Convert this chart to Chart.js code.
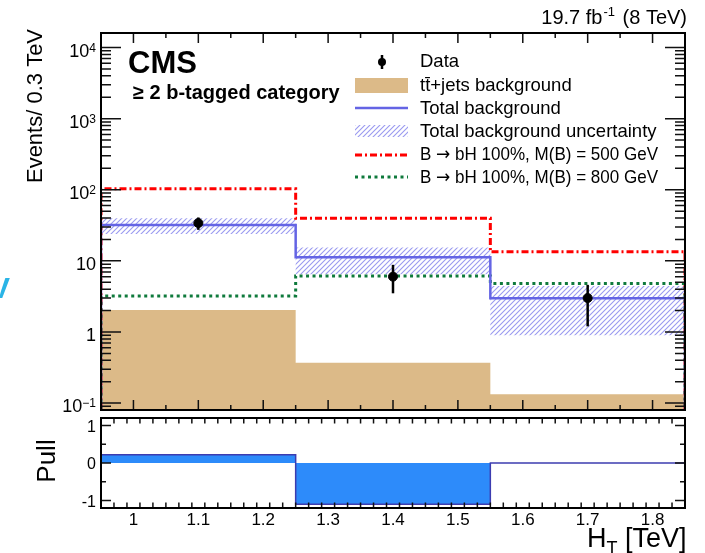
<!DOCTYPE html>
<html>
<head>
<meta charset="utf-8">
<script src="https://cdn.jsdelivr.net/npm/chart.js@4/dist/chart.umd.min.js"></script>
<style>
  html, body { margin: 0; padding: 0; background: #fff; }
  #wrap { position: relative; width: 705px; height: 553px; overflow: hidden; background: #fff; }
  canvas { position: absolute; left: 0; top: 0; }
  #edge { position: absolute; left: -10px; top: 271px; color: #2ab4e6; font: bold 30px "Liberation Sans", Arial, sans-serif; }
</style>
</head>
<body>
<div id="wrap">
  <canvas id="main" width="705" height="553"></canvas>
  <canvas id="pull" width="705" height="553"></canvas>
  <span id="edge">V</span>
</div>
<script>
// H_T binning (TeV) and per-bin yields, events / 0.3 TeV
const binEdges   = [0.95, 1.25, 1.55, 1.85];
const ttJets     = [2.04, 0.37, 0.133];
const totalBkg   = [32, 11.2, 2.98];
const bkgUncHi   = [39.6, 15.4, 4.44];
const bkgUncLo   = [23.8, 6.5, 0.9];
const signal500  = [103, 39.6, 13.4];
const signal800  = [3.2, 6.15, 4.8];
const dataCounts = [34, 6.0, 3.0];
const dataErrHi  = [40.8, 8.8, 4.6];
const dataErrLo  = [27.3, 3.5, 1.2];
const pullValues = [0.22, -1.1, 0.0];

// axis labelling
const xTickLabels    = ['1', '1.1', '1.2', '1.3', '1.4', '1.5', '1.6', '1.7', '1.8'];
const yTickExponents = [-1, 0, 1, 2, 3, 4];
const pullTickLabels = ['-1', '0', '1'];

const legendLabels = [
  'Data',
  'tt\u0304+jets background',
  'Total background',
  'Total background uncertainty',
  'B \u2192 bH 100%, M(B) = 500 GeV',
  'B \u2192 bH 100%, M(B) = 800 GeV'
];

const COL_TT = '#dcba88';
const COL_BKG = '#6464e4';
const COL_SIG500 = '#ff0000';
const COL_SIG800 = '#0f7a3c';
const COL_PULL = '#2d8bfa';
const FONT = '"Liberation Sans", Arial, Helvetica, sans-serif';
const SYM_FONT = '"DejaVu Sans", sans-serif';
const FLOOR = 1e-3;

function font(size, bold, family) { return (bold ? 'bold ' : '') + size + 'px ' + (family || FONT); }

const binCenters = binEdges.slice(0, -1).map((e, i) => (e + binEdges[i + 1]) / 2);

// histogram outline as step points (value holds until the next edge)
function steps(vals, floor) {
  const pts = [];
  if (floor !== undefined) pts.push({ x: binEdges[0], y: floor });
  vals.forEach((v, i) => pts.push({ x: binEdges[i], y: v }));
  pts.push({ x: binEdges[binEdges.length - 1], y: vals[vals.length - 1] });
  if (floor !== undefined) pts.push({ x: binEdges[binEdges.length - 1], y: floor });
  return pts;
}

const mainCtx = document.getElementById('main').getContext('2d');
function makeHatch() {
  const c = document.createElement('canvas');
  c.width = 5; c.height = 5;
  const g = c.getContext('2d');
  g.strokeStyle = '#9a9af0';
  g.lineWidth = 1.1;
  g.beginPath();
  g.moveTo(-1, 6); g.lineTo(6, -1);
  g.moveTo(-3, 3); g.lineTo(3, -3);
  g.moveTo(2, 8); g.lineTo(8, 2);
  g.stroke();
  return mainCtx.createPattern(c, 'repeat');
}
const hatch = makeHatch();

// draws a run of text pieces (sizes, offsets, fonts may differ); squeezed to maxWidth when given
function drawRich(ctx, x, y, parts, align, maxWidth) {
  let w = 0;
  parts.forEach(p => {
    ctx.font = font(p.size, p.bold, p.family);
    p.w = ctx.measureText(p.t).width + (p.gap || 0);
    w += p.w;
  });
  const s = (maxWidth && w > maxWidth) ? maxWidth / w : 1;
  const total = w * s;
  const x0 = align === 'right' ? x - total : (align === 'center' ? x - total / 2 : x);
  ctx.save();
  ctx.translate(x0, y);
  ctx.scale(s, 1);
  ctx.textAlign = 'left';
  ctx.textBaseline = 'alphabetic';
  let cx = 0;
  parts.forEach(p => {
    ctx.font = font(p.size, p.bold, p.family);
    ctx.fillText(p.t, cx + (p.pre || 0), p.dy || 0);
    cx += p.w;
  });
  ctx.restore();
}

// legend text: arrows are set in a font that carries a full-size glyph
function legendParts(text, size) {
  const parts = [];
  text.split('\u2192').forEach((chunk, i) => {
    if (i > 0) parts.push({ t: '\u2192', size, family: SYM_FONT });
    if (chunk) parts.push({ t: chunk, size });
  });
  return parts;
}

const mainDecor = {
  id: 'mainDecor',
  beforeDatasetDraw(chart, args) {
    if (args.index !== 0) return;
    const ctx = chart.ctx, xs = chart.scales.x, ys = chart.scales.y;
    ctx.save();
    ctx.strokeStyle = '#000';
    ctx.lineWidth = 2.5;
    dataCounts.forEach((v, i) => {
      const px = xs.getPixelForValue(binCenters[i]);
      ctx.beginPath();
      ctx.moveTo(px, ys.getPixelForValue(dataErrHi[i]));
      ctx.lineTo(px, ys.getPixelForValue(dataErrLo[i]));
      ctx.stroke();
    });
    ctx.restore();
  },
  afterDraw(chart) {
    const ctx = chart.ctx, xs = chart.scales.x, ys = chart.scales.y, a = chart.chartArea;
    ctx.save();
    // inward tick marks
    ctx.strokeStyle = '#111';
    ctx.lineWidth = 1.5;
    ctx.beginPath();
    for (let k = -2; k <= 4; k++) {
      for (let m = 1; m <= 9; m++) {
        const v = m * Math.pow(10, k);
        if (v < ys.min || v > ys.max) continue;
        const py = ys.getPixelForValue(v);
        const len = m === 1 ? 20 : 10;
        ctx.moveTo(a.left, py); ctx.lineTo(a.left + len, py);
        ctx.moveTo(a.right, py); ctx.lineTo(a.right - len, py);
      }
    }
    for (let i = 0; i <= 18; i++) {
      const px = xs.getPixelForValue(0.95 + i * 0.05);
      const len = (i % 2 === 1) ? 10 : 5;
      ctx.moveTo(px, a.bottom); ctx.lineTo(px, a.bottom - len);
      ctx.moveTo(px, a.top); ctx.lineTo(px, a.top + len);
    }
    ctx.stroke();
    // frame
    ctx.strokeStyle = '#000';
    ctx.lineWidth = 2;
    ctx.strokeRect(a.left, a.top, a.right - a.left, a.bottom - a.top);

    // y tick labels
    ctx.fillStyle = '#000';
    yTickExponents.forEach(e => {
      const py = ys.getPixelForValue(Math.pow(10, e)) + 9;
      let parts;
      if (e === 0) parts = [{ t: '1', size: 18 }];
      else if (e === 1) parts = [{ t: '10', size: 18 }];
      else parts = [{ t: '10', size: 18 }, { t: String(e).replace('-', '\u2212'), size: 12, dy: -5 }];
      drawRich(ctx, 96, py, parts, 'right');
    });

    // axis title
    ctx.save();
    ctx.translate(42, 106);
    ctx.rotate(-Math.PI / 2);
    ctx.font = font(22);
    ctx.textAlign = 'center';
    ctx.textBaseline = 'alphabetic';
    ctx.fillText('Events/ 0.3 TeV', 0, 0);
    ctx.restore();

    // luminosity label
    drawRich(ctx, 687, 24, [
      { t: '19.7 fb', size: 20 },
      { t: '-1', size: 13, dy: -8, pre: 1, gap: 3 },
      { t: ' (8 TeV)', size: 20 }
    ], 'right');

    // CMS label and category
    drawRich(ctx, 128, 73, [{ t: 'CMS', size: 31, bold: true }], 'left');
    drawRich(ctx, 133, 99, [{ t: '\u2265 2 b-tagged category', size: 20, bold: true }], 'left');

    // legend
    const lx0 = 355, lx1 = 408, tx = 420;
    const rows = [67, 91, 114, 137, 160, 183];
    // data marker
    ctx.strokeStyle = '#000'; ctx.lineWidth = 2.5;
    ctx.beginPath(); ctx.moveTo(382, 55); ctx.lineTo(382, 69); ctx.stroke();
    ctx.fillStyle = '#000';
    ctx.beginPath(); ctx.arc(382, 62, 4, 0, Math.PI * 2); ctx.fill();
    // tt box
    ctx.fillStyle = COL_TT; ctx.fillRect(lx0, 78, lx1 - lx0, 15);
    // total background line
    ctx.strokeStyle = COL_BKG; ctx.lineWidth = 2.5;
    ctx.beginPath(); ctx.moveTo(lx0, 108); ctx.lineTo(lx1, 108); ctx.stroke();
    // uncertainty
    ctx.fillStyle = hatch; ctx.fillRect(lx0, 125, lx1 - lx0, 12);
    // signals
    ctx.lineWidth = 3;
    ctx.strokeStyle = COL_SIG500; ctx.setLineDash([7, 3, 2, 3]);
    ctx.beginPath(); ctx.moveTo(lx0, 155); ctx.lineTo(lx1, 155); ctx.stroke();
    ctx.strokeStyle = COL_SIG800; ctx.setLineDash([3, 3.5]);
    ctx.beginPath(); ctx.moveTo(lx0, 177); ctx.lineTo(lx1, 177); ctx.stroke();
    ctx.setLineDash([]);
    ctx.fillStyle = '#000';
    legendLabels.forEach((t, i) => drawRich(ctx, tx, rows[i], legendParts(t, 18.5), 'left', 238));
    ctx.restore();
  }
};

new Chart(mainCtx, {
  type: 'line',
  data: {
    datasets: [
      { label: 'Data', type: 'scatter', data: dataCounts.map((v, i) => ({ x: binCenters[i], y: v })),
        pointRadius: 4.5, pointBackgroundColor: '#000', pointBorderColor: '#000', showLine: false },
      { label: 'Total background', data: steps(totalBkg, FLOOR), stepped: true, borderColor: COL_BKG,
        borderWidth: 2.5, pointRadius: 0, fill: false },
      { label: 'M(B) = 800 GeV', data: steps(signal800, FLOOR), stepped: true, borderColor: COL_SIG800,
        borderWidth: 3, borderDash: [3, 3.5], pointRadius: 0, fill: false },
      { label: 'M(B) = 500 GeV', data: steps(signal500, FLOOR), stepped: true, borderColor: COL_SIG500,
        borderWidth: 3, borderDash: [7, 3, 2, 3], pointRadius: 0, fill: false },
      { label: 'Uncertainty up', data: steps(bkgUncHi), stepped: true, borderWidth: 0, borderColor: 'rgba(0,0,0,0)',
        backgroundColor: hatch, pointRadius: 0, fill: '+1' },
      { label: 'Uncertainty down', data: steps(bkgUncLo), stepped: true, borderWidth: 0, borderColor: 'rgba(0,0,0,0)',
        pointRadius: 0, fill: false },
      { label: 'tt+jets', data: steps(ttJets), stepped: true, borderWidth: 0, borderColor: 'rgba(0,0,0,0)',
        backgroundColor: COL_TT, pointRadius: 0, fill: 'start' }
    ]
  },
  options: {
    responsive: false,
    animation: false,
    events: [],
    layout: { padding: { left: 101, top: 33, right: 20, bottom: 143 } },
    plugins: { legend: { display: false }, tooltip: { enabled: false } },
    scales: {
      x: { type: 'linear', min: 0.95, max: 1.85, display: false },
      y: { type: 'logarithmic', min: 0.08, max: 16000, display: false }
    }
  },
  plugins: [mainDecor]
});

const pullDecor = {
  id: 'pullDecor',
  afterDraw(chart) {
    const ctx = chart.ctx, xs = chart.scales.x, ys = chart.scales.y, a = chart.chartArea;
    ctx.save();
    ctx.strokeStyle = '#111';
    ctx.lineWidth = 1.5;
    ctx.beginPath();
    for (let i = 0; i <= 45; i++) {
      const v = 0.95 + i * 0.02;
      if (v > 1.8501) break;
      const px = xs.getPixelForValue(v);
      const isMajor = Math.abs(Math.round(v * 10) - v * 10) < 1e-6;
      const len = isMajor ? 11 : 5.5;
      ctx.moveTo(px, a.bottom); ctx.lineTo(px, a.bottom - len);
      ctx.moveTo(px, a.top); ctx.lineTo(px, a.top + len);
    }
    [-1, -0.5, 0, 0.5, 1].forEach(v => {
      const py = ys.getPixelForValue(v);
      const len = Number.isInteger(v) ? 10 : 5;
      ctx.moveTo(a.left, py); ctx.lineTo(a.left + len, py);
      ctx.moveTo(a.right, py); ctx.lineTo(a.right - len, py);
    });
    ctx.stroke();
    ctx.strokeStyle = '#000';
    ctx.lineWidth = 2;
    ctx.strokeRect(a.left, a.top, a.right - a.left, a.bottom - a.top);

    ctx.fillStyle = '#000';
    xTickLabels.forEach(t => {
      drawRich(ctx, xs.getPixelForValue(parseFloat(t)), 525, [{ t, size: 17 }], 'center');
    });
    pullTickLabels.forEach(t => {
      drawRich(ctx, 96, ys.getPixelForValue(parseFloat(t)) + 6, [{ t, size: 16 }], 'right');
    });

    ctx.save();
    ctx.translate(55, 461);
    ctx.rotate(-Math.PI / 2);
    ctx.font = font(26);
    ctx.textAlign = 'center';
    ctx.textBaseline = 'alphabetic';
    ctx.fillText('Pull', 0, 0);
    ctx.restore();

    drawRich(ctx, 587, 547, [
      { t: 'H', size: 27 },
      { t: 'T', size: 18, dy: 7 },
      { t: ' [TeV]', size: 27 }
    ], 'left');
    ctx.restore();
  }
};

new Chart(document.getElementById('pull').getContext('2d'), {
  type: 'line',
  data: {
    datasets: [
      { label: 'Pull', data: steps(pullValues), stepped: true, borderColor: '#3c3cb0', borderWidth: 1.5,
        backgroundColor: COL_PULL, pointRadius: 0, fill: 'origin' }
    ]
  },
  options: {
    responsive: false,
    animation: false,
    events: [],
    layout: { padding: { left: 101, top: 418, right: 20, bottom: 45 } },
    plugins: { legend: { display: false }, tooltip: { enabled: false } },
    scales: {
      x: { type: 'linear', min: 0.95, max: 1.85, display: false },
      y: { type: 'linear', min: -1.2, max: 1.2, display: false }
    }
  },
  plugins: [pullDecor]
});
</script>
</body>
</html>
